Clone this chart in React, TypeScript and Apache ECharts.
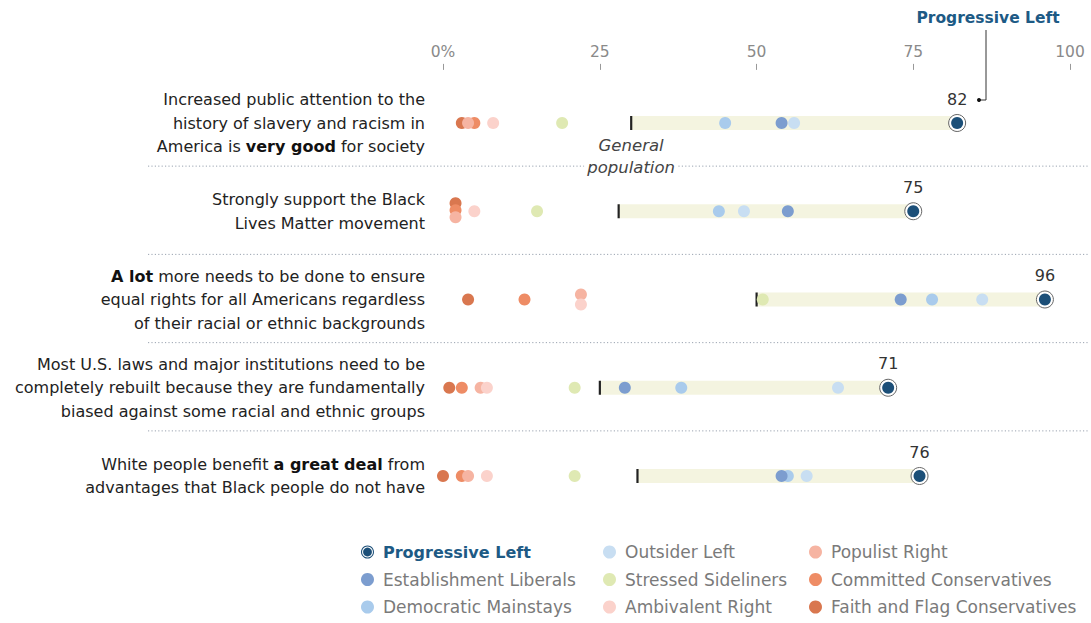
import React, { useEffect, useRef } from "react";
import * as echarts from "echarts";

// ---- Data ----
const categories = [
  "Increased public attention to the\nhistory of slavery and racism in\nAmerica is {b|very good} for society",
  "Strongly support the Black\nLives Matter movement",
  "{b|A lot} more needs to be done to ensure\nequal rights for all Americans regardless\nof their racial or ethnic backgrounds",
  "Most U.S. laws and major institutions need to be\ncompletely rebuilt because they are fundamentally\nbiased against some racial and ethnic groups",
  "White people benefit {b|a great deal} from\nadvantages that Black people do not have",
];
const xTicks = [0, 25, 50, 75, 100];
const generalPopulation = [30, 28, 50, 25, 31];
const progressiveLeft = [82, 75, 96, 71, 76];
const establishmentLiberals = [54, 55, 73, 29, 54];
const democraticMainstays = [45, 44, 78, 38, 55];
const outsiderLeft = [56, 48, 86, 63, 58];
const stressedSideliners = [19, 15, 51, 21, 21];
const ambivalentRight = [8, 5, 22, 7, 7];
const populistRight = [4, 2, 22, 6, 4];
const committedConservatives = [5, 2, 13, 3, 3];
const faithFlagConservatives = [3, 2, 4, 1, 0];

const groups = [
  { name: "Progressive Left", values: progressiveLeft, color: "#1c4f78" },
  { name: "Establishment Liberals", values: establishmentLiberals, color: "#7c9dcf" },
  { name: "Democratic Mainstays", values: democraticMainstays, color: "#a9cbec" },
  { name: "Outsider Left", values: outsiderLeft, color: "#c8def2" },
  { name: "Stressed Sideliners", values: stressedSideliners, color: "#dfe9b3" },
  { name: "Ambivalent Right", values: ambivalentRight, color: "#fbd2cb" },
  { name: "Populist Right", values: populistRight, color: "#f6b4a2" },
  { name: "Committed Conservatives", values: committedConservatives, color: "#ee8c65" },
  { name: "Faith and Flag Conservatives", values: faithFlagConservatives, color: "#d9774f" },
];

// vertical jitter (px) for overlapping dots: group -> row -> offset
const jitter: Record<string, Record<number, number>> = {
  "Faith and Flag Conservatives": { 1: -8 },
  "Committed Conservatives": { 1: -1 },
  "Populist Right": { 1: 6, 2: -5 },
  "Ambivalent Right": { 2: 5 },
};

const FONT = "DejaVu Sans, Liberation Sans, sans-serif";
const GRID_TOP = 78.875;
const GRID_H = 441.25;
const BAND = GRID_H / categories.length;

const ringIcon =
  "path://M8,0A8,8,0,1,1,7.99,0ZM8,1.3A6.7,6.7,0,1,0,8.01,1.3ZM8,2.6A5.4,5.4,0,1,1,7.99,2.6Z";

export default function App() {
  const ref = useRef<HTMLDivElement>(null);
  useEffect(() => {
    document.body.style.margin = "0";
    if (!ref.current) return;
    const chart = echarts.init(ref.current, undefined, { renderer: "svg" });

    const scatterSeries: any[] = [];
    // outer ring for Progressive Left
    scatterSeries.push({
      type: "scatter",
      name: "PL ring",
      symbolSize: 17,
      z: 3,
      silent: true,
      itemStyle: { color: "#ffffff", borderColor: "#666", borderWidth: 1, opacity: 1 },
      data: progressiveLeft.map((v, i) => [v, i]),
    });
    groups
      .slice()
      .reverse()
      .forEach((g) => {
        const isPL = g.name === "Progressive Left";
        scatterSeries.push({
          type: "scatter",
          name: g.name,
          symbol: "circle",
          symbolSize: 12,
          z: isPL ? 5 : 4,
          itemStyle: { color: g.color, opacity: 1 },
          data: g.values.map((v, i) => {
            const off = jitter[g.name]?.[i];
            const item: any = { value: [v, i] };
            if (off !== undefined) item.symbolOffset = [0, off];
            return item;
          }),
          label: isPL
            ? {
                show: true,
                position: "top",
                distance: 10,
                fontFamily: FONT,
                fontSize: 16,
                color: "#333",
                formatter: (p: any) => String(p.value[0]),
              }
            : { show: false },
        });
      });

    const bandSeries = {
      type: "custom",
      name: "range",
      z: 1,
      silent: true,
      data: generalPopulation.map((v, i) => [v, progressiveLeft[i], i]),
      renderItem: (params: any, api: any) => {
        const start = api.coord([api.value(0), api.value(2)]);
        const end = api.coord([api.value(1), api.value(2)]);
        const h = 14;
        const children: any[] = [
          {
            type: "rect",
            shape: { x: start[0], y: start[1] - h / 2, width: end[0] - start[0], height: h },
            style: { fill: "#f4f4e0" },
          },
          {
            type: "rect",
            shape: { x: start[0] - 1, y: start[1] - h / 2, width: 2.2, height: h },
            style: { fill: "#222" },
            z2: 10,
          },
        ];
        if (params.dataIndex === 0) {
          children.push({
            type: "text",
            x: start[0],
            y: start[1] + 11,
            style: {
              text: "General\npopulation",
              align: "center",
              verticalAlign: "top",
              fontFamily: FONT,
              fontSize: 16.5,
              fontStyle: "italic",
              lineHeight: 22,
              fill: "#444",
              backgroundColor: "#fff",
              padding: [0, 3],
            },
          });
        }
        return { type: "group", children };
      },
    };

    const separators = [1, 2, 3, 4].map((k) => ({
      type: "line",
      z: 0,
      silent: true,
      shape: { x1: 148, y1: GRID_TOP + k * BAND - 1, x2: 1088, y2: GRID_TOP + k * BAND - 1 },
      style: { stroke: "#9aa3b0", lineWidth: 1, lineDash: [1.2, 2.2] },
    }));

    const legendCols = [
      ["Progressive Left", "Establishment Liberals", "Democratic Mainstays"],
      ["Outsider Left", "Stressed Sideliners", "Ambivalent Right"],
      ["Populist Right", "Committed Conservatives", "Faith and Flag Conservatives"],
    ];
    const legendLeft = [361, 603, 809];
    const legends = legendCols.map((col, ci) => ({
      orient: "vertical",
      left: legendLeft[ci],
      top: 543,
      itemGap: 9.5,
      itemWidth: 13,
      itemHeight: 13,
      selectedMode: false,
      padding: 0,
      data: col.map((n) =>
        n === "Progressive Left"
          ? { name: n, icon: ringIcon }
          : { name: n, icon: "circle" }
      ),
      formatter: (name: string) => (name === "Progressive Left" ? `{pl|${name}}` : name),
      textStyle: {
        fontFamily: FONT,
        fontSize: 17,
        lineHeight: 18,
        color: "#7a7a7a",
        padding: [0, 0, 0, 4],
        rich: {
          pl: { fontFamily: FONT, fontSize: 16, fontWeight: "bold", color: "#1d5a85", lineHeight: 18 },
        },
      },
    }));

    chart.setOption({
      animation: false,
      backgroundColor: "#ffffff",
      grid: { left: 443, right: 21, top: GRID_TOP, height: GRID_H, containLabel: false },
      xAxis: {
        type: "value",
        position: "top",
        min: xTicks[0],
        max: xTicks[xTicks.length - 1],
        interval: 25,
        offset: 9,
        axisLine: { show: false },
        axisTick: { show: true, length: 6, lineStyle: { color: "#999" } },
        splitLine: { show: false },
        axisLabel: {
          margin: 10,
          fontFamily: FONT,
          fontSize: 15.5,
          color: "#8a8a8a",
          formatter: (v: number) => (v === 0 ? "0%" : String(v)),
        },
      },
      yAxis: {
        type: "category",
        data: categories,
        inverse: true,
        axisLine: { show: false },
        axisTick: { show: false },
        splitLine: { show: false },
        axisLabel: {
          margin: 18,
          fontFamily: FONT,
          fontSize: 16,
          lineHeight: 23.5,
          color: "#222",
          align: "right",
          rich: {
            b: { fontFamily: FONT, fontSize: 16, fontWeight: "bold", color: "#111", lineHeight: 23.5 },
          },
        },
      },
      legend: legends,
      graphic: [
        ...separators,
        {
          type: "text",
          x: 988,
          y: 18,
          z: 10,
          style: {
            text: "Progressive Left",
            align: "center",
            verticalAlign: "middle",
            fontFamily: FONT,
            fontSize: 15.5,
            fontWeight: "bold",
            fill: "#1d5a85",
          },
        },
        {
          type: "polyline",
          z: 10,
          silent: true,
          shape: { points: [[986, 30], [986, 100], [979, 100]] },
          style: { stroke: "#333", lineWidth: 1, fill: null },
        },
        {
          type: "circle",
          z: 10,
          shape: { cx: 979, cy: 100, r: 2 },
          style: { fill: "#111" },
        },
      ],
      series: [bandSeries, ...scatterSeries],
    });
    return () => chart.dispose();
  }, []);
  return <div ref={ref} style={{ width: 1091, height: 623 }} />;
}
